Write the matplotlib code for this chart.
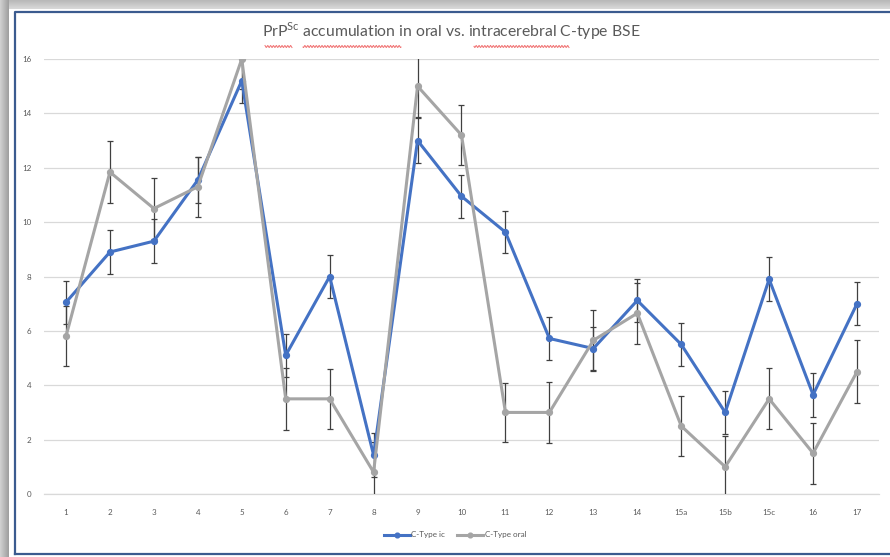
import numpy as np
import matplotlib.pyplot as plt
from matplotlib.lines import Line2D

# Category labels (animals / samples)
CATEGORIES = ["1", "2", "3", "4", "5", "6", "7", "8", "9", "10", "11", "12",
              "13", "14", "15a", "15b", "15c", "16", "17"]

# Mean PrPSc scores, intracerebral route
IC_VALUES = [7.05, 8.9, 9.3, 11.55, 15.2, 5.1, 8.0, 1.43, 13.0, 10.95, 9.63,
             5.72, 5.35, 7.12, 5.5, 3.0, 7.9, 3.65, 7.0]
IC_ERR = [0.8, 0.82, 0.8, 0.85, 0.8, 0.8, 0.78, 0.8, 0.84, 0.78, 0.78,
          0.78, 0.78, 0.8, 0.8, 0.8, 0.8, 0.8, 0.78]

# Mean PrPSc scores, oral route
ORAL_VALUES = [5.8, 11.84, 10.5, 11.3, 16.0, 3.5, 3.5, 0.8, 15.0, 13.2, 3.0,
               3.0, 5.65, 6.65, 2.5, 1.0, 3.5, 1.5, 4.5]
ORAL_ERR = [1.1, 1.15, 1.13, 1.1, 1.12, 1.15, 1.1, 1.12, 1.12, 1.1, 1.1,
            1.12, 1.12, 1.12, 1.1, 1.12, 1.12, 1.12, 1.15]

Y_TICKS = [0, 2, 4, 6, 8, 10, 12, 14, 16]

BLUE = "#4472C4"
GREY = "#A5A5A5"
TEXT = "#595959"
GRID = "#D9D9D9"

plt.rcParams["font.family"] = ["Lato", "DejaVu Sans"]
plt.rcParams["mathtext.fontset"] = "custom"
plt.rcParams["mathtext.rm"] = "Lato"

W, H = 890, 557
fig = plt.figure(figsize=(W / 100, H / 100), dpi=100)

# --- window frame behind the chart (pixel coordinates) ---
bg = fig.add_axes([0, 0, 1, 1])
bg.set_xlim(0, W)
bg.set_ylim(H, 0)
bg.axis("off")
left_grad = np.linspace(0.82, 0.62, 20).reshape(1, -1)
bg.imshow(left_grad, cmap="gray", vmin=0, vmax=1, extent=[0, 9, H, 0], aspect="auto")
top_grad = np.linspace(0.72, 0.85, 20).reshape(-1, 1)
bg.imshow(top_grad, cmap="gray", vmin=0, vmax=1, extent=[9, W, 9, 0], aspect="auto")
bg.set_xlim(0, W)
bg.set_ylim(H, 0)
bg.plot([15, 15, W + 5], [H - 3, 12, 12], color="#3B5B8F", lw=1.6)
bg.plot([15, W + 5], [554, 554], color="#3B5B8F", lw=1.6)

# spell-check squiggles under the title words
for x0, x1 in [(265, 292), (303, 401), (474, 569)]:
    xs = np.linspace(x0, x1, int((x1 - x0) * 2))
    bg.plot(xs, 46.5 + 1.0 * np.sin(xs * 2.2), color="#F07070", lw=0.7)

# --- chart ---
ax = fig.add_axes([44 / W, 63 / H, 835 / W, 435 / H])
x = np.arange(len(CATEGORIES))

err_style = dict(ecolor="#404040", elinewidth=0.9, capsize=2.4, capthick=0.9)
ax.errorbar(x, IC_VALUES, yerr=IC_ERR, color=BLUE, lw=2.2, marker="o", ms=4.2,
            zorder=3, **err_style)
ax.errorbar(x, ORAL_VALUES, yerr=ORAL_ERR, color=GREY, lw=2.2, marker="o", ms=4.2,
            zorder=3, **err_style)

ax.set_xlim(-0.5, len(CATEGORIES) - 0.5)
ax.set_ylim(0, 16)
ax.set_yticks(Y_TICKS)
ax.set_xticks(x)
ax.set_xticklabels(CATEGORIES)
ax.tick_params(length=0, labelsize=5.8, labelcolor=TEXT)
ax.tick_params(axis="x", pad=11)
ax.tick_params(axis="y", pad=9)
ax.grid(axis="y", color=GRID, lw=0.9)
ax.set_axisbelow(True)
for side in ["left", "right", "top"]:
    ax.spines[side].set_visible(False)
ax.spines["bottom"].set_color(GRID)
ax.spines["bottom"].set_linewidth(0.9)
ax.patch.set_alpha(0)

fig.text(451 / W, 1 - 31 / H,
         r"PrP$^{\mathrm{Sc}}$ accumulation in oral vs. intracerebral C-type BSE",
         ha="center", va="center", fontsize=11.3, color=TEXT)

handles = [Line2D([], [], color=BLUE, lw=2.2, marker="o", ms=3.4),
           Line2D([], [], color=GREY, lw=2.2, marker="o", ms=3.4)]
fig.legend(handles, ["C-Type ic", "C-Type oral"], loc="center",
           bbox_to_anchor=(455 / W, 1 - 535 / H), ncol=2, frameon=False,
           fontsize=5.8, labelcolor=TEXT, handlelength=3.2,
           handletextpad=0.2, columnspacing=1.5)

fig.savefig("out.png", dpi=100)
